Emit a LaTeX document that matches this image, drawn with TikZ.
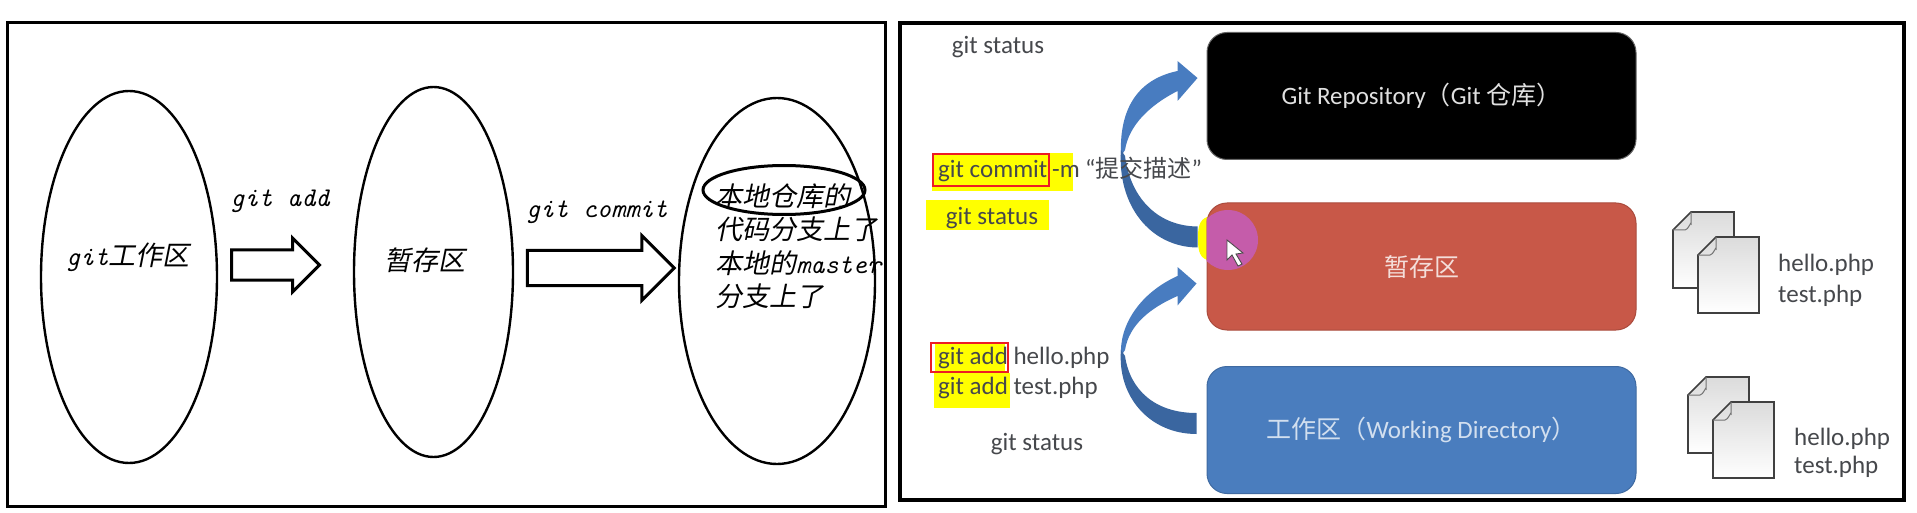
\documentclass[tikz,border=0pt]{standalone}
\usepackage{fontspec}
\setmainfont{Carlito}
\newfontfamily\cnfont{Noto Sans CJK SC}
\newfontfamily\cnslant[FakeSlant=0.2]{Noto Sans CJK SC}
\usetikzlibrary{shapes.geometric,shapes.arrows,calc}
\definecolor{ink}{RGB}{70,72,76}
\definecolor{hiYel}{RGB}{255,255,0}
\definecolor{boxRed}{RGB}{200,88,72}
\definecolor{boxBlue}{RGB}{74,125,190}
\definecolor{curveDark}{RGB}{58,102,160}
\definecolor{curveLite}{RGB}{72,124,192}
\definecolor{markRed}{RGB}{237,28,36}
\definecolor{cursorPink}{RGB}{197,92,170}
\newcommand{\cnit}[1]{{\cnslant #1}}

\begin{document}
\begin{tikzpicture}[
  x=1pt, y=-1pt,
  area/.style={ellipse, draw, line width=2.4pt, inner sep=0pt},
  hand/.style={font=\fontsize{27}{33.5}\selectfont\ttfamily\itshape, inner sep=0pt, align=left},
  blockarrow/.style={single arrow, draw, line width=3pt, fill=white, inner sep=0pt, text height=27pt, text depth=0pt},
  stage/.style={rounded corners=20pt, line width=1pt, minimum width=429pt, minimum height=127pt, inner sep=0pt, font=\fontsize{25}{28}\selectfont},
  cmd/.style={font=\fontsize{25}{30}\selectfont, text=ink, inner sep=0pt},
  hilite/.style={fill=hiYel, inner sep=0pt},
  redframe/.style={draw=markRed, line width=2.2pt, inner sep=0pt},
  page/.style={draw=black!75, line width=1.6pt, top color=black!14, bottom color=white},
  filepile/.pic={
    \draw[page] (18,0) -- (61,0) -- (61,76) -- (0,76) -- (0,18) -- cycle;
    \draw[black!55, line width=1pt] (18,0) -- (18,12) to[out=90,in=0] (12,18) -- (0,18);
    \draw[page] (43,25) -- (86,25) -- (86,101) -- (25,101) -- (25,43) -- cycle;
    \draw[black!55, line width=1pt] (43,25) -- (43,37) to[out=90,in=0] (37,43) -- (25,43);
  },
]
\useasboundingbox (0,0) rectangle (1917,513);
\fill[white] (0,0) rectangle (1917,513);

% ---- left panel ----
\node[draw, line width=3pt, minimum width=878pt, minimum height=483pt] (leftFrame) at (446,264.5) {};

\node[area, minimum width=176pt, minimum height=372pt] (workArea) at (129,277) {};
\node[area, minimum width=159pt, minimum height=370pt] (indexArea) at (433.5,272) {};
\node[area, minimum width=196pt, minimum height=366pt] (localArea) at (777,281) {};
\node[area, line width=3pt, minimum width=162pt, minimum height=49pt] (repoRing) at (784,190) {};

\node[hand] (workText) at (128,257) {git\cnit{工作区}};
\node[hand] (indexText) at (425,260) {\cnit{暂存区}};
\node[hand, anchor=west] (localText) at (715,246) {%
  \cnit{本地仓库的}\\
  \cnit{代码分支上了}\\
  \cnit{本地的}master\\
  \cnit{分支上了}};

% ---- the two block arrows ----
\node[blockarrow, minimum height=88pt, minimum width=50pt, single arrow head extend=12pt] (addArrow) at (268,265) {};
\node[blockarrow, text height=32pt, minimum height=147pt, minimum width=62pt, single arrow head extend=15pt] (commitArrow) at (592,268) {};
\node[hand] (addText) at (280,201) {git add};
\node[hand] (commitText) at (597,212) {git commit};

% ---- right panel ----
\node[draw, line width=3.5pt, minimum width=1004pt, minimum height=477pt] (rightFrame) at (1402,261.5) {};

% yellow behind the middle box
\fill[hiYel] (1207,217) to[out=200,in=90] (1198,238) to[out=-90,in=160] (1207,260) -- cycle;

\node[stage, fill=black, draw=black!60, text=black!12] (repoBox) at (1421.5,96) {Git Repository{\cnfont（}Git {\cnfont 仓库）}};
\node[stage, fill=boxRed, draw=boxRed!85!black, text=white!80!boxRed] (indexBox) at (1421.5,266.5) {\cnfont 暂存区};
\node[stage, fill=boxBlue, draw=boxBlue!85!black, text=white!75!boxBlue] (workBox) at (1421.5,430) {{\cnfont 工作区（}Working Directory{\cnfont ）}\hspace{14pt}};

\begin{scope}
  \clip (indexBox.south west) rectangle (indexBox.north east);
  \node[circle, fill=cursorPink, minimum size=60pt, inner sep=0pt] (clickDot) at (1228,240) {};
\end{scope}
\draw[fill=white, draw=black!70, line width=.9pt] (clickDot.center) ++(-1,0) -- ++(0,20) -- ++(5,-5) -- ++(6,11) -- ++(4,-2) -- ++(-6,-10) -- ++(7,-1) -- cycle;

% ---- curved arrows ----
\coordinate (lowTail) at ($(workBox.west)+(-10,-17)$);
\coordinate (lowTip) at ($(indexBox.west)+(-10,17)$);
\coordinate (upTail) at ($(indexBox.west)+(-9,-40)$);
\coordinate (upTip) at ($(repoBox.west)+(-9,-18)$);

\fill[curveLite] (1121,156) .. controls (1119,112) and (1135,80) .. ($(upTip)+(-20,-7)$)
  -- ($(upTip)+(-20,-17)$) -- (upTip) -- ($(upTip)+(-20,23)$) -- ($(upTip)+(-20,13)$)
  .. controls (1150,105) and (1129,125) .. (1125,150) -- cycle;
\fill[curveDark] (upTail) .. controls (1155,226) and (1130,195) .. (1125,156)
  -- (1121,150) .. controls (1117,205) and (1150,247) .. ($(upTail)+(0,21)$) -- cycle;

\fill[curveLite] (1121,356) .. controls (1119,325) and (1140,293) .. ($(lowTip)+(-19,-7.5)$)
  -- ($(lowTip)+(-19,-16.5)$) -- (lowTip) -- ($(lowTip)+(-19,22)$) -- ($(lowTip)+(-19,12.5)$)
  .. controls (1150,308) and (1129,325) .. (1125,350) -- cycle;
\fill[curveDark] (lowTail) .. controls (1155,413) and (1130,390) .. (1125,356)
  -- (1121,350) .. controls (1117,397) and (1150,434) .. ($(lowTail)+(0,21)$) -- cycle;

% ---- commands ----
\node[hilite, minimum width=141pt, minimum height=38pt] (commitMark) at (1002.5,172) {};
\node[hilite, minimum width=123pt, minimum height=30pt] (statusMark) at (987.5,215) {};
\node[hilite, minimum width=76pt, minimum height=35pt] (testMark) at (972,390.5) {};
\node[hilite, minimum width=70pt, minimum height=29pt] (helloMark) at (970,358) {};

\node[cmd] (statusTop) at (998,47) {git status};
\node[cmd, anchor=west] (commitCmd) at (938,171) {git commit};
\node[cmd, anchor=west] (dashM) at (1052,171) {-m};
\node[cmd, anchor=west] (commitMsg) at (1085,168) {“{\cnfont\fontsize{24}{28}\selectfont 提交描述}”};
\node[cmd] (statusMid) at (992,218) {git status};
\node[cmd, anchor=west] (addHello) at (938,358) {git add hello.php};
\node[cmd, anchor=west] (addTest) at (938,388) {git add test.php};
\node[cmd] (statusLow) at (1037,444) {git status};

\node[redframe, minimum width=116pt, minimum height=32pt] (commitBox) at (991,170) {};
\node[redframe, minimum width=77pt, minimum height=29pt] (addBox) at (969.5,357.5) {};

% ---- file piles ----
\pic at (1673,212) {filepile};
\pic at (1688,377) {filepile};
\node[cmd, anchor=west] (idxHello) at (1778,265) {hello.php};
\node[cmd, anchor=west] (idxTest) at (1778,296) {test.php};
\node[cmd, anchor=west] (wrkHello) at (1794,439) {hello.php};
\node[cmd, anchor=west] (wrkTest) at (1794,467) {test.php};

\end{tikzpicture}
\end{document}
